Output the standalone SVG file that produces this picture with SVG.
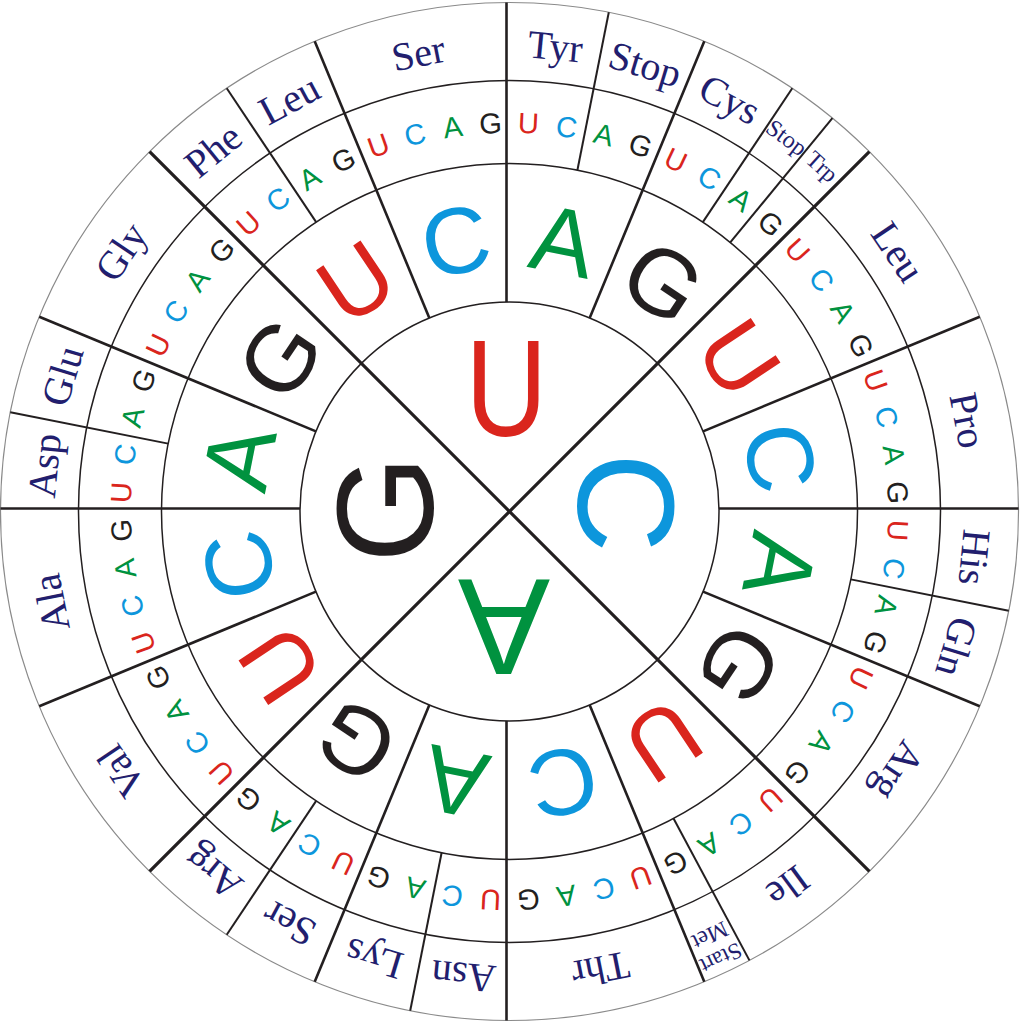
<svg xmlns="http://www.w3.org/2000/svg" width="1024" height="1024" viewBox="0 0 1024 1024">
<style>
.bg{fill:#ffffff}
.ring{fill:none;stroke:#231f20;stroke-width:1.5}
.outer{fill:none;stroke:#8a8a8a;stroke-width:1.2}
.d1{stroke:#231f20;stroke-width:3.2;stroke-linecap:butt}
.d2{stroke:#231f20;stroke-width:2.6;stroke-linecap:butt}
.d3{stroke:#231f20;stroke-width:2;stroke-linecap:butt}
.l{font-family:"Liberation Sans",Arial,sans-serif;text-anchor:middle}
.l1{font-size:138px}
.l2{font-size:94px}
.l3{font-size:29px}
.u{fill:#da251d}
.c{fill:#0d96dc}
.a{fill:#00923f}
.g{fill:#231f20}
.aa{font-family:"Liberation Serif","Times New Roman",serif;font-size:40px;fill:#221e6e;text-anchor:middle}
.sm{font-size:24px}
.xs{font-size:23px}
</style>
<rect class="bg" x="0" y="0" width="1024" height="1024"/>

<g id="rings">
<circle class="ring" cx="509.5" cy="511.5" r="209.5"/>
<circle class="ring" cx="509.5" cy="511.5" r="348"/>
<circle class="ring" cx="509.5" cy="511.5" r="431"/>
<circle class="outer" cx="509.5" cy="511.5" r="509"/>
</g>

<g id="connectors">
<line class="d1" x1="149.6" y1="151.6" x2="869.4" y2="871.4"/>
<line class="d1" x1="869.4" y1="151.6" x2="149.6" y2="871.4"/>
<line class="d2" x1="506.5" y1="302" x2="506.5" y2="2.5"/>
<line class="d2" x1="589.67" y1="317.95" x2="704.29" y2="41.25"/>
<line class="d2" x1="703.05" y1="431.33" x2="979.75" y2="316.71"/>
<line class="d2" x1="719" y1="508.5" x2="1018.5" y2="508.5"/>
<line class="d2" x1="703.05" y1="591.67" x2="979.75" y2="706.29"/>
<line class="d2" x1="589.67" y1="705.05" x2="704.29" y2="981.75"/>
<line class="d2" x1="506.5" y1="721" x2="506.5" y2="1020.5"/>
<line class="d2" x1="429.33" y1="705.05" x2="314.71" y2="981.75"/>
<line class="d2" x1="315.95" y1="591.67" x2="39.25" y2="706.29"/>
<line class="d2" x1="300" y1="508.5" x2="0.5" y2="508.5"/>
<line class="d2" x1="315.95" y1="431.33" x2="39.25" y2="316.71"/>
<line class="d2" x1="429.33" y1="317.95" x2="314.71" y2="41.25"/>
<line class="d3" x1="316.16" y1="222.15" x2="226.72" y2="88.28"/>
<line class="d3" x1="577.39" y1="170.19" x2="608.8" y2="12.28"/>
<line class="d3" x1="702.84" y1="222.15" x2="792.28" y2="88.28"/>
<line class="d3" x1="730.27" y1="242.49" x2="832.4" y2="118.04"/>
<line class="d3" x1="850.81" y1="579.39" x2="1008.72" y2="610.8"/>
<line class="d3" x1="673.55" y1="818.41" x2="749.44" y2="960.4"/>
<line class="d3" x1="441.61" y1="852.81" x2="410.2" y2="1010.72"/>
<line class="d3" x1="316.16" y1="800.85" x2="226.72" y2="934.72"/>
<line class="d3" x1="168.19" y1="443.61" x2="10.28" y2="412.2"/>
</g>

<g id="first-letters">
<text class="l l1 u" y="48.5" transform="translate(506.3 387.2) scale(0.82 1)">U</text>
<text class="l l1 c" y="48.5" transform="translate(626.3 502.8) rotate(90)">C</text>
<text class="l l1 a" y="48.5" transform="translate(504 627) rotate(180)">A</text>
<text class="l l1 g" y="48.5" transform="translate(384.7 509.2) rotate(270)">G</text>
</g>

<g id="second-letters">
<text class="l l2 u" x="509.5" y="268.1" transform="rotate(-33.75 509.5 511.5)">U</text>
<text class="l l2 c" x="509.5" y="268.1" transform="rotate(-11.25 509.5 511.5)">C</text>
<text class="l l2 a" x="509.5" y="268.1" transform="rotate(11.25 509.5 511.5)">A</text>
<text class="l l2 g" x="509.5" y="268.1" transform="rotate(33.75 509.5 511.5)">G</text>
<text class="l l2 u" x="509.5" y="268.1" transform="rotate(56.25 509.5 511.5)">U</text>
<text class="l l2 c" x="509.5" y="268.1" transform="rotate(78.75 509.5 511.5)">C</text>
<text class="l l2 a" x="509.5" y="268.1" transform="rotate(101.25 509.5 511.5)">A</text>
<text class="l l2 g" x="509.5" y="268.1" transform="rotate(123.75 509.5 511.5)">G</text>
<text class="l l2 u" x="509.5" y="268.1" transform="rotate(146.25 509.5 511.5)">U</text>
<text class="l l2 c" x="509.5" y="268.1" transform="rotate(168.75 509.5 511.5)">C</text>
<text class="l l2 a" x="509.5" y="268.1" transform="rotate(191.25 509.5 511.5)">A</text>
<text class="l l2 g" x="509.5" y="268.1" transform="rotate(213.75 509.5 511.5)">G</text>
<text class="l l2 u" x="509.5" y="268.1" transform="rotate(236.25 509.5 511.5)">U</text>
<text class="l l2 c" x="509.5" y="268.1" transform="rotate(258.75 509.5 511.5)">C</text>
<text class="l l2 a" x="509.5" y="268.1" transform="rotate(281.25 509.5 511.5)">A</text>
<text class="l l2 g" x="509.5" y="268.1" transform="rotate(303.75 509.5 511.5)">G</text>
</g>

<g id="third-letters">
<text class="l l3 u" x="509.5" y="132.9" transform="rotate(-42.1875 509.5 511.5)">U</text>
<text class="l l3 c" x="509.5" y="132.9" transform="rotate(-36.5625 509.5 511.5)">C</text>
<text class="l l3 a" x="509.5" y="132.9" transform="rotate(-30.9375 509.5 511.5)">A</text>
<text class="l l3 g" x="509.5" y="132.9" transform="rotate(-25.3125 509.5 511.5)">G</text>
<text class="l l3 u" x="509.5" y="132.9" transform="rotate(-19.6875 509.5 511.5)">U</text>
<text class="l l3 c" x="509.5" y="132.9" transform="rotate(-14.0625 509.5 511.5)">C</text>
<text class="l l3 a" x="509.5" y="132.9" transform="rotate(-8.4375 509.5 511.5)">A</text>
<text class="l l3 g" x="509.5" y="132.9" transform="rotate(-2.8125 509.5 511.5)">G</text>
<text class="l l3 u" x="509.5" y="132.9" transform="rotate(2.8125 509.5 511.5)">U</text>
<text class="l l3 c" x="509.5" y="132.9" transform="rotate(8.4375 509.5 511.5)">C</text>
<text class="l l3 a" x="509.5" y="132.9" transform="rotate(14.0625 509.5 511.5)">A</text>
<text class="l l3 g" x="509.5" y="132.9" transform="rotate(19.6875 509.5 511.5)">G</text>
<text class="l l3 u" x="509.5" y="132.9" transform="rotate(25.3125 509.5 511.5)">U</text>
<text class="l l3 c" x="509.5" y="132.9" transform="rotate(30.9375 509.5 511.5)">C</text>
<text class="l l3 a" x="509.5" y="132.9" transform="rotate(36.5625 509.5 511.5)">A</text>
<text class="l l3 g" x="509.5" y="132.9" transform="rotate(42.1875 509.5 511.5)">G</text>
<text class="l l3 u" x="509.5" y="132.9" transform="rotate(47.8125 509.5 511.5)">U</text>
<text class="l l3 c" x="509.5" y="132.9" transform="rotate(53.4375 509.5 511.5)">C</text>
<text class="l l3 a" x="509.5" y="132.9" transform="rotate(59.0625 509.5 511.5)">A</text>
<text class="l l3 g" x="509.5" y="132.9" transform="rotate(64.6875 509.5 511.5)">G</text>
<text class="l l3 u" x="509.5" y="132.9" transform="rotate(70.3125 509.5 511.5)">U</text>
<text class="l l3 c" x="509.5" y="132.9" transform="rotate(75.9375 509.5 511.5)">C</text>
<text class="l l3 a" x="509.5" y="132.9" transform="rotate(81.5625 509.5 511.5)">A</text>
<text class="l l3 g" x="509.5" y="132.9" transform="rotate(87.1875 509.5 511.5)">G</text>
<text class="l l3 u" x="509.5" y="132.9" transform="rotate(92.8125 509.5 511.5)">U</text>
<text class="l l3 c" x="509.5" y="132.9" transform="rotate(98.4375 509.5 511.5)">C</text>
<text class="l l3 a" x="509.5" y="132.9" transform="rotate(104.0625 509.5 511.5)">A</text>
<text class="l l3 g" x="509.5" y="132.9" transform="rotate(109.6875 509.5 511.5)">G</text>
<text class="l l3 u" x="509.5" y="132.9" transform="rotate(115.3125 509.5 511.5)">U</text>
<text class="l l3 c" x="509.5" y="132.9" transform="rotate(120.9375 509.5 511.5)">C</text>
<text class="l l3 a" x="509.5" y="132.9" transform="rotate(126.5625 509.5 511.5)">A</text>
<text class="l l3 g" x="509.5" y="132.9" transform="rotate(132.1875 509.5 511.5)">G</text>
<text class="l l3 u" x="509.5" y="132.9" transform="rotate(137.8125 509.5 511.5)">U</text>
<text class="l l3 c" x="509.5" y="132.9" transform="rotate(143.4375 509.5 511.5)">C</text>
<text class="l l3 a" x="509.5" y="132.9" transform="rotate(149.0625 509.5 511.5)">A</text>
<text class="l l3 g" x="509.5" y="132.9" transform="rotate(154.6875 509.5 511.5)">G</text>
<text class="l l3 u" x="509.5" y="132.9" transform="rotate(160.3125 509.5 511.5)">U</text>
<text class="l l3 c" x="509.5" y="132.9" transform="rotate(165.9375 509.5 511.5)">C</text>
<text class="l l3 a" x="509.5" y="132.9" transform="rotate(171.5625 509.5 511.5)">A</text>
<text class="l l3 g" x="509.5" y="132.9" transform="rotate(177.1875 509.5 511.5)">G</text>
<text class="l l3 u" x="509.5" y="132.9" transform="rotate(182.8125 509.5 511.5)">U</text>
<text class="l l3 c" x="509.5" y="132.9" transform="rotate(188.4375 509.5 511.5)">C</text>
<text class="l l3 a" x="509.5" y="132.9" transform="rotate(194.0625 509.5 511.5)">A</text>
<text class="l l3 g" x="509.5" y="132.9" transform="rotate(199.6875 509.5 511.5)">G</text>
<text class="l l3 u" x="509.5" y="132.9" transform="rotate(205.3125 509.5 511.5)">U</text>
<text class="l l3 c" x="509.5" y="132.9" transform="rotate(210.9375 509.5 511.5)">C</text>
<text class="l l3 a" x="509.5" y="132.9" transform="rotate(216.5625 509.5 511.5)">A</text>
<text class="l l3 g" x="509.5" y="132.9" transform="rotate(222.1875 509.5 511.5)">G</text>
<text class="l l3 u" x="509.5" y="132.9" transform="rotate(227.8125 509.5 511.5)">U</text>
<text class="l l3 c" x="509.5" y="132.9" transform="rotate(233.4375 509.5 511.5)">C</text>
<text class="l l3 a" x="509.5" y="132.9" transform="rotate(239.0625 509.5 511.5)">A</text>
<text class="l l3 g" x="509.5" y="132.9" transform="rotate(244.6875 509.5 511.5)">G</text>
<text class="l l3 u" x="509.5" y="132.9" transform="rotate(250.3125 509.5 511.5)">U</text>
<text class="l l3 c" x="509.5" y="132.9" transform="rotate(255.9375 509.5 511.5)">C</text>
<text class="l l3 a" x="509.5" y="132.9" transform="rotate(261.5625 509.5 511.5)">A</text>
<text class="l l3 g" x="509.5" y="132.9" transform="rotate(267.1875 509.5 511.5)">G</text>
<text class="l l3 u" x="509.5" y="132.9" transform="rotate(272.8125 509.5 511.5)">U</text>
<text class="l l3 c" x="509.5" y="132.9" transform="rotate(278.4375 509.5 511.5)">C</text>
<text class="l l3 a" x="509.5" y="132.9" transform="rotate(284.0625 509.5 511.5)">A</text>
<text class="l l3 g" x="509.5" y="132.9" transform="rotate(289.6875 509.5 511.5)">G</text>
<text class="l l3 u" x="509.5" y="132.9" transform="rotate(295.3125 509.5 511.5)">U</text>
<text class="l l3 c" x="509.5" y="132.9" transform="rotate(300.9375 509.5 511.5)">C</text>
<text class="l l3 a" x="509.5" y="132.9" transform="rotate(306.5625 509.5 511.5)">A</text>
<text class="l l3 g" x="509.5" y="132.9" transform="rotate(312.1875 509.5 511.5)">G</text>
</g>

<g id="amino-acids">
<text class="aa" x="509.5" y="57.7" transform="rotate(-39.375 509.5 511.5)">Phe</text>
<text class="aa" x="509.5" y="57.7" transform="rotate(-28.125 509.5 511.5)">Leu</text>
<text class="aa" x="509.5" y="57.7" transform="rotate(-11.25 509.5 511.5)">Ser</text>
<text class="aa" x="509.5" y="57.7" transform="rotate(5.625 509.5 511.5)">Tyr</text>
<text class="aa" x="509.5" y="57.7" transform="rotate(16.875 509.5 511.5)">Stop</text>
<text class="aa" x="509.5" y="57.7" transform="rotate(28.125 509.5 511.5)">Cys</text>
<text class="aa sm" x="509.5" y="54" transform="rotate(36.5625 509.5 511.5)">Stop</text>
<text class="aa sm" x="509.5" y="54" transform="rotate(42.1875 509.5 511.5)">Trp</text>
<text class="aa" x="509.5" y="57.7" transform="rotate(56.25 509.5 511.5)">Leu</text>
<text class="aa" x="509.5" y="57.7" transform="rotate(78.75 509.5 511.5)">Pro</text>
<text class="aa" x="509.5" y="57.7" transform="rotate(95.625 509.5 511.5)">His</text>
<text class="aa" x="509.5" y="57.7" transform="rotate(106.875 509.5 511.5)">Gln</text>
<text class="aa" x="509.5" y="57.7" transform="rotate(123.75 509.5 511.5)">Arg</text>
<text class="aa" x="509.5" y="57.7" transform="rotate(143.4375 509.5 511.5)">Ile</text>
<text class="aa xs" x="509.5" y="25" transform="rotate(154.6875 509.5 511.5)">Start</text>
<text class="aa xs" x="509.5" y="50" transform="rotate(154.6875 509.5 511.5)">Met</text>
<text class="aa" x="509.5" y="57.7" transform="rotate(168.75 509.5 511.5)">Thr</text>
<text class="aa" x="509.5" y="57.7" transform="rotate(185.625 509.5 511.5)">Asn</text>
<text class="aa" x="509.5" y="57.7" transform="rotate(196.875 509.5 511.5)">Lys</text>
<text class="aa" x="509.5" y="57.7" transform="rotate(208.125 509.5 511.5)">Ser</text>
<text class="aa" x="509.5" y="57.7" transform="rotate(219.375 509.5 511.5)">Arg</text>
<text class="aa" x="509.5" y="57.7" transform="rotate(236.25 509.5 511.5)">Val</text>
<text class="aa" x="509.5" y="57.7" transform="rotate(258.75 509.5 511.5)">Ala</text>
<text class="aa" x="509.5" y="57.7" transform="rotate(275.625 509.5 511.5)">Asp</text>
<text class="aa" x="509.5" y="57.7" transform="rotate(286.875 509.5 511.5)">Glu</text>
<text class="aa" x="509.5" y="57.7" transform="rotate(303.75 509.5 511.5)">Gly</text>
</g>
</svg>
